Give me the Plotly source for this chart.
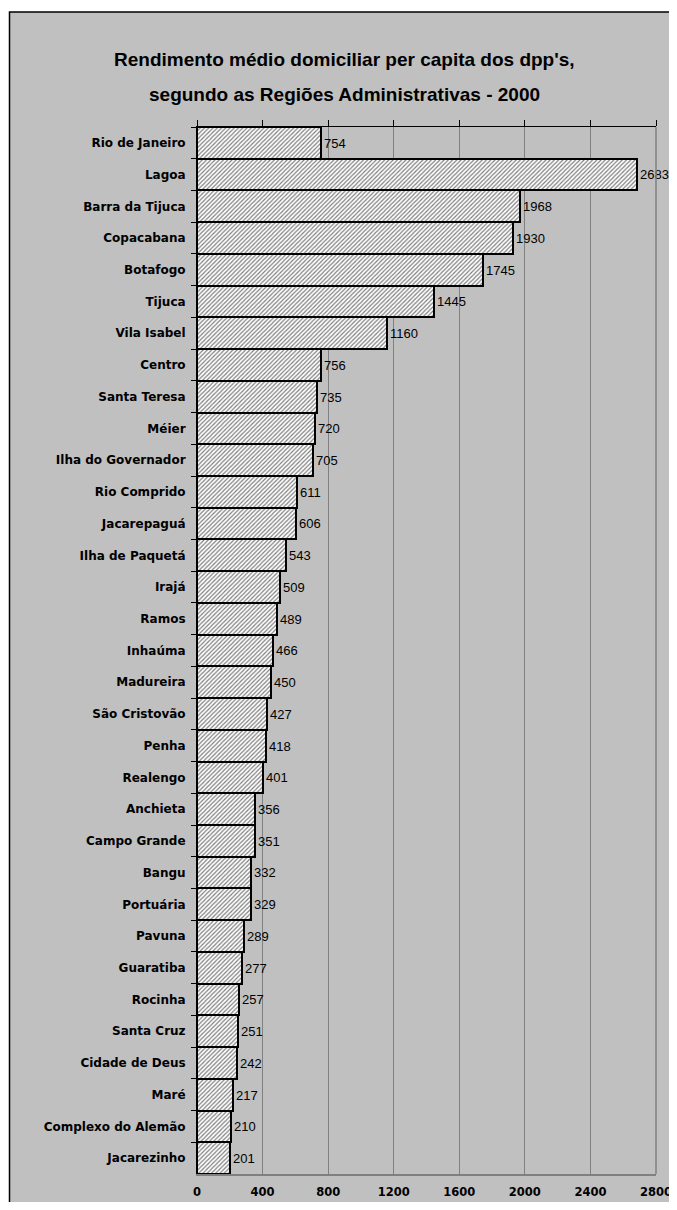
import plotly.graph_objects as go

regions = ["Rio de Janeiro", "Lagoa", "Barra da Tijuca", "Copacabana", "Botafogo", "Tijuca",
           "Vila Isabel", "Centro", "Santa Teresa", "Méier", "Ilha do Governador", "Rio Comprido",
           "Jacarepaguá", "Ilha de Paquetá", "Irajá", "Ramos", "Inhaúma", "Madureira",
           "São Cristovão", "Penha", "Realengo", "Anchieta", "Campo Grande", "Bangu", "Portuária",
           "Pavuna", "Guaratiba", "Rocinha", "Santa Cruz", "Cidade de Deus", "Maré",
           "Complexo do Alemão", "Jacarezinho"]
values = [754, 2683, 1968, 1930, 1745, 1445, 1160, 756, 735, 720, 705, 611, 606, 543, 509, 489,
          466, 450, 427, 418, 401, 356, 351, 332, 329, 289, 277, 257, 251, 242, 217, 210, 201]
x_ticks = [0, 400, 800, 1200, 1600, 2000, 2400, 2800]
title_lines = ["Rendimento médio domiciliar per capita dos dpp's,",
               "segundo as Regiões Administrativas - 2000"]

# page body has an 8px margin: figure coords = page coords - 8
W, H = 661, 1194
ml, mr, mt, mb = 189, 13, 119, 28
pw = W - ml - mr
ph = H - mt - mb


def px_x(x):
    return (x - ml) / pw


def px_y(y):
    return 1 - (y - mt) / ph


fig = go.Figure()
fig.add_trace(go.Bar(
    y=regions, x=values, orientation="h",
    marker=dict(color="white", line=dict(color="black", width=2),
                pattern=dict(shape="/", fgcolor="black", bgcolor="white", size=3, solidity=0.4)),
    text=[str(v) for v in values], textposition="outside", cliponaxis=False,
    textfont=dict(family="Liberation Sans, Arial", size=13, color="black"),
    width=1.0, showlegend=False, hoverinfo="skip",
))
# invisible trace carrying the top axis ticks
fig.add_trace(go.Scatter(x=[0, 2800], y=[regions[0], regions[0]], xaxis="x2", mode="markers",
                         marker=dict(opacity=0), showlegend=False, hoverinfo="skip"))

title_font = dict(family="Liberation Sans Narrow, Arial Narrow, Liberation Sans", size=19,
                  color="black", weight="bold")
annotations = []
for line, yc in zip(title_lines, [51, 87]):
    annotations.append(dict(text=line, xref="paper", yref="paper", x=px_x(336), y=px_y(yc),
                            xanchor="center", yanchor="middle", showarrow=False, font=title_font))

fig.update_layout(
    width=W, height=H,
    margin=dict(l=ml, r=mr, t=mt, b=mb, autoexpand=False),
    paper_bgcolor="white", plot_bgcolor="white",
    bargap=0,
    annotations=annotations,
    xaxis=dict(range=[0, 2800], tickvals=x_ticks, showgrid=True, gridcolor="#808080", gridwidth=1,
               zeroline=False, showline=True, linecolor="#808080", linewidth=1.5, mirror=False,
               ticks="", ticklabelstandoff=6, automargin=False, ticklabeloverflow="allow",
               tickfont=dict(family="DejaVu Sans", size=11.5, color="black", weight="bold")),
    xaxis2=dict(range=[0, 2800], tickvals=x_ticks, overlaying="x", side="top", anchor="y",
                showgrid=False, zeroline=False, showline=True, linecolor="black", linewidth=1,
                ticks="outside", ticklen=6, tickcolor="black", showticklabels=False, automargin=False),
    yaxis=dict(range=[32.5, -0.5], type="category", showline=True, linecolor="black", linewidth=1,
               ticks="outside", tickson="boundaries", ticklen=5, tickcolor="black",
               ticklabelstandoff=8, showgrid=False, automargin=False,
               tickfont=dict(family="DejaVu Sans", size=12, color="black", weight="bold")),
    shapes=[
        dict(type="rect", xref="paper", yref="paper",
             x0=px_x(1.5), x1=px_x(W + 20), y0=px_y(H + 20), y1=px_y(4),
             line=dict(color="black", width=1.5), fillcolor="#C0C0C0", layer="below"),
        dict(type="line", xref="paper", yref="paper", x0=1, x1=1, y0=0, y1=1,
             line=dict(color="#808080", width=1.5)),
    ],
)
fig.write_html("out.html", config={"displayModeBar": False})
